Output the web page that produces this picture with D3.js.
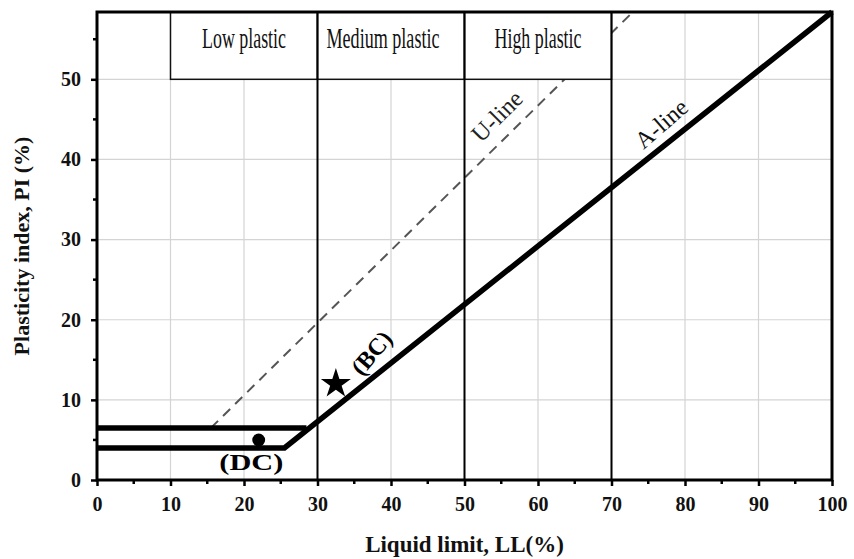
<!DOCTYPE html>
<html>
<head>
<meta charset="utf-8">
<script src="https://cdn.jsdelivr.net/npm/d3@7"></script>
<style>
  body { margin: 0; background: #fff; }
  text { font-family: "Liberation Serif", "Times New Roman", serif; }
</style>
</head>
<body>
<div id="chart"></div>
<script>
// chart values
var xTicks = [0, 10, 20, 30, 40, 50, 60, 70, 80, 90, 100];
var yTicks = [0, 10, 20, 30, 40, 50];
var xMinor = d3.range(0, 101, 5);
var yMinor = d3.range(0, 58, 5);

var zoneEdges = [10, 30, 50, 70];
var zoneNames = ["Low plastic", "Medium plastic", "High plastic"];
var zoneBottom = 50;
var dividers = [30, 50, 70];

// A-line with the CL-ML lower edge, CL-ML upper edge, U-line
var aLine = [[0, 4], [25.5, 4], [100, 58.4]];
var clmlTop = [[0, 6.5], [28.5, 6.5]];
var uLine = [[15.5, 6.5], [72.9, 58.4]];

var soils = [
  { name: "(BC)", ll: 32.5, pi: 12, symbol: "star" },
  { name: "(DC)", ll: 22, pi: 5, symbol: "circle" }
];

var svgWidth = 854;
var svgHeight = 559;

var margin = { top: 12, right: 22, bottom: 79, left: 97 };
var width = svgWidth - margin.left - margin.right;
var height = svgHeight - margin.top - margin.bottom;

var svg = d3.select("#chart")
  .append("svg")
  .attr("width", svgWidth)
  .attr("height", svgHeight);

var chartGroup = svg.append("g")
  .attr("transform", `translate(${margin.left}, ${margin.top})`);

var x = d3.scaleLinear().domain([0, 100]).range([0, width]);
var y = d3.scaleLinear().domain([0, 58.4]).range([height, 0]);

// grid
chartGroup.append("g").selectAll("line")
  .data(xTicks.slice(1, -1))
  .enter().append("line")
  .attr("x1", d => x(d)).attr("x2", d => x(d))
  .attr("y1", 0).attr("y2", height)
  .attr("stroke", "#d4d4d4").attr("stroke-width", 1.2);

chartGroup.append("g").selectAll("line")
  .data(yTicks.slice(1))
  .enter().append("line")
  .attr("x1", 0).attr("x2", width)
  .attr("y1", d => y(d)).attr("y2", d => y(d))
  .attr("stroke", "#d4d4d4").attr("stroke-width", 1.2);

var line = d3.line().x(d => x(d[0])).y(d => y(d[1]));

// U-line (dashed)
chartGroup.append("path")
  .attr("d", line(uLine))
  .attr("fill", "none")
  .attr("stroke", "#555")
  .attr("stroke-width", 2)
  .attr("stroke-dasharray", "10,7");

// zone boxes
var zones = zoneNames.map((n, i) => ({ name: n, x0: zoneEdges[i], x1: zoneEdges[i + 1] }));
var labelWidth = [84, 113, 87];
var labelShift = [0, -8, 0];

chartGroup.selectAll(".zone")
  .data(zones)
  .enter().append("rect")
  .attr("class", "zone")
  .attr("x", d => x(d.x0))
  .attr("y", 0)
  .attr("width", d => x(d.x1) - x(d.x0))
  .attr("height", y(zoneBottom))
  .attr("fill", "#fff")
  .attr("stroke", "#111")
  .attr("stroke-width", 1.5);

chartGroup.selectAll(".zoneLabel")
  .data(zones)
  .enter().append("text")
  .attr("class", "zoneLabel")
  .attr("x", (d, i) => x((d.x0 + d.x1) / 2) + labelShift[i] - labelWidth[i] / 2)
  .attr("y", 36)
  .attr("font-size", "29px")
  .attr("textLength", (d, i) => labelWidth[i])
  .attr("lengthAdjust", "spacingAndGlyphs")
  .attr("fill", "#111")
  .text(d => d.name);

// dividers
chartGroup.selectAll(".divider")
  .data(dividers)
  .enter().append("line")
  .attr("class", "divider")
  .attr("x1", d => x(d)).attr("x2", d => x(d))
  .attr("y1", 0).attr("y2", height)
  .attr("stroke", "#000").attr("stroke-width", 2);

// A-line and CL-ML band
chartGroup.append("path")
  .attr("d", line(aLine))
  .attr("fill", "none")
  .attr("stroke", "#000")
  .attr("stroke-width", 5.5)
  .attr("stroke-linejoin", "miter");

chartGroup.append("path")
  .attr("d", line(clmlTop))
  .attr("fill", "none")
  .attr("stroke", "#000")
  .attr("stroke-width", 5.5);

// line labels
chartGroup.append("text")
  .attr("transform", `translate(${x(55.2)}, ${y(44.7)}) rotate(-45)`)
  .attr("text-anchor", "middle")
  .attr("font-size", "24px")
  .attr("fill", "#222")
  .text("U-line");

chartGroup.append("text")
  .attr("transform", `translate(${x(77.5)}, ${y(43.7)}) rotate(-41)`)
  .attr("text-anchor", "middle")
  .attr("font-size", "24px")
  .attr("fill", "#111")
  .text("A-line");

// soil points
var symbolType = { star: d3.symbolStar, circle: d3.symbolCircle };
var symbolSize = { star: 280, circle: 130 };

chartGroup.selectAll(".soil")
  .data(soils)
  .enter().append("path")
  .attr("class", "soil")
  .attr("transform", d => `translate(${x(d.ll)}, ${y(d.pi)})`)
  .attr("d", d => d3.symbol().type(symbolType[d.symbol]).size(symbolSize[d.symbol])())
  .attr("fill", "#000");

chartGroup.append("text")
  .attr("transform", `translate(${x(38.2)}, ${y(15.2)}) rotate(-50)`)
  .attr("text-anchor", "middle")
  .attr("font-size", "24px")
  .attr("font-weight", "bold")
  .text(soils[0].name);

chartGroup.append("text")
  .attr("x", x(21.0) - 32)
  .attr("y", y(1.2))
  .attr("font-size", "24px")
  .attr("font-weight", "bold")
  .attr("textLength", 64)
  .attr("lengthAdjust", "spacingAndGlyphs")
  .text(soils[1].name);

// axes
var bottomAxis = d3.axisBottom(x).tickValues(xTicks).tickSize(6).tickPadding(11);
var leftAxis = d3.axisLeft(y).tickValues(yTicks).tickSize(6).tickPadding(10);

var xAxisG = chartGroup.append("g")
  .attr("transform", `translate(0, ${height})`)
  .call(bottomAxis);

var yAxisG = chartGroup.append("g")
  .call(leftAxis);

[xAxisG, yAxisG].forEach(function(g) {
  g.select(".domain").remove();
  g.selectAll(".tick line").attr("stroke", "#000").attr("stroke-width", 2.5);
  g.selectAll(".tick text")
    .attr("font-family", "Liberation Serif, serif")
    .attr("font-size", "20px")
    .attr("font-weight", "bold")
    .attr("fill", "#111");
});

// minor ticks
chartGroup.append("g").selectAll("line")
  .data(xMinor.filter(d => d % 10 !== 0))
  .enter().append("line")
  .attr("x1", d => x(d)).attr("x2", d => x(d))
  .attr("y1", height).attr("y2", height + 4)
  .attr("stroke", "#000").attr("stroke-width", 2.5);

chartGroup.append("g").selectAll("line")
  .data(yMinor.filter(d => d % 10 !== 0))
  .enter().append("line")
  .attr("x1", -4).attr("x2", 0)
  .attr("y1", d => y(d)).attr("y2", d => y(d))
  .attr("stroke", "#000").attr("stroke-width", 2.5);

// frame
chartGroup.append("rect")
  .attr("x", 0).attr("y", 0)
  .attr("width", width).attr("height", height)
  .attr("fill", "none")
  .attr("stroke", "#000")
  .attr("stroke-width", 3);

// axis titles
chartGroup.append("text")
  .attr("x", width / 2)
  .attr("y", height + 72)
  .attr("text-anchor", "middle")
  .attr("font-size", "23px")
  .attr("font-weight", "bold")
  .attr("fill", "#111")
  .text("Liquid limit, LL(%)");

chartGroup.append("text")
  .attr("transform", "rotate(-90)")
  .attr("x", 0 - height / 2)
  .attr("y", 0 - 68)
  .attr("text-anchor", "middle")
  .attr("font-size", "22px")
  .attr("font-weight", "bold")
  .attr("fill", "#111")
  .text("Plasticity index, PI (%)");
</script>
</body>
</html>
